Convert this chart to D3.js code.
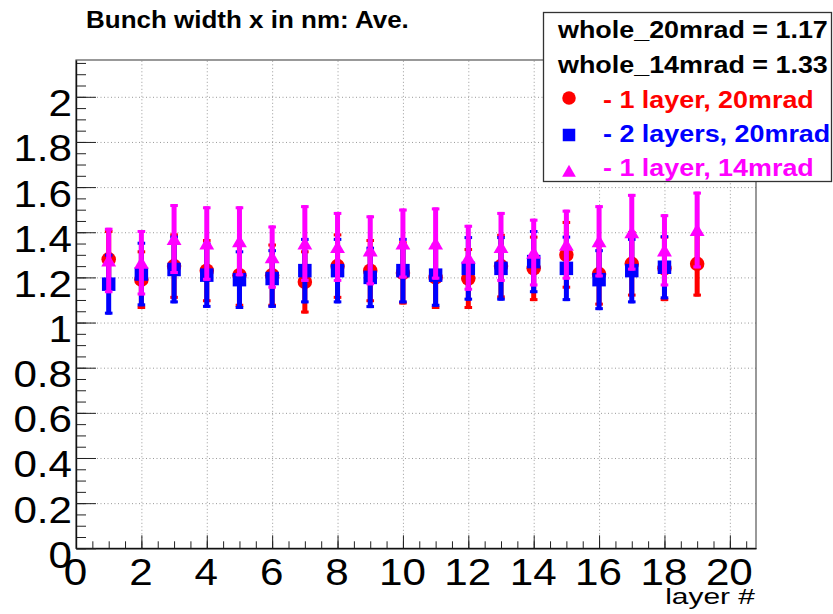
<!DOCTYPE html>
<html>
<head>
<meta charset="utf-8">
<script src="https://cdn.jsdelivr.net/npm/d3@7"></script>
<style>
  body { margin: 0; background: #fff; }
  svg { display: block; font-family: "Liberation Sans", Arial, Helvetica, sans-serif; }
</style>
</head>
<body>
<div id="chart"></div>
<script>
// layer numbers per series
const layersRed = d3.range(1, 20);
const layersBlue = d3.range(1, 19);
const layersMag = d3.range(1, 20);

// 1 layer, 20mrad
const redValues = [1.28, 1.19, 1.25, 1.23, 1.21, 1.21, 1.18, 1.25, 1.23, 1.22,
                   1.20, 1.195, 1.25, 1.24, 1.30, 1.215, 1.26, 1.24, 1.26];
const redErrors = [0.13, 0.13, 0.145, 0.14, 0.14, 0.14, 0.14, 0.145, 0.14, 0.14,
                   0.14, 0.135, 0.143, 0.145, 0.15, 0.14, 0.145, 0.145, 0.145];
// 2 layers, 20mrad
const blueValues = [1.17, 1.215, 1.235, 1.21, 1.19, 1.195, 1.23, 1.23, 1.20, 1.23,
                    1.21, 1.24, 1.24, 1.27, 1.24, 1.19, 1.23, 1.245];
const blueErrors = [0.135, 0.143, 0.15, 0.145, 0.13, 0.13, 0.145, 0.145, 0.136, 0.145,
                    0.14, 0.143, 0.143, 0.14, 0.145, 0.135, 0.145, 0.142];
// 1 layer, 14mrad
const magValues = [1.275, 1.265, 1.37, 1.35, 1.36, 1.29, 1.35, 1.335, 1.32, 1.35,
                   1.35, 1.287, 1.335, 1.31, 1.345, 1.36, 1.40, 1.32, 1.41];
const magErrors = [0.145, 0.145, 0.155, 0.165, 0.155, 0.14, 0.17, 0.155, 0.155, 0.155,
                   0.16, 0.146, 0.155, 0.15, 0.155, 0.16, 0.17, 0.16, 0.17];

const xMajor = d3.range(0, 21, 2);
const xMinor = d3.range(0, 20.6, 0.5);
const yMajor = d3.range(0, 2.01, 0.2).map(v => +v.toFixed(1));
const yMinor = d3.range(0, 2.16, 0.05).map(v => +v.toFixed(2));

const title = "Bunch width x in nm: Ave.";
const xTitle = "layer #";
const legendHeader = ["whole_20mrad = 1.17", "whole_14mrad = 1.33"];
const legendLabels = ["- 1 layer, 20mrad", "- 2 layers, 20mrad", "- 1 layer, 14mrad"];

const width = 833, height = 614;
const SX = 1.14; // text is stretched horizontally in the original

const svg = d3.select("#chart").append("svg")
    .attr("width", width)
    .attr("height", height);

const x = d3.scaleLinear().domain([0, 20.8]).range([76, 756]);
const y = d3.scaleLinear().domain([0, 2.163]).range([548.3, 60]);

// grid
svg.append("g")
    .attr("transform", `translate(0,${y(0)})`)
    .call(d3.axisBottom(x).tickValues(xMajor.slice(1)).tickSize(-(y(0) - y.range()[1])).tickFormat(""))
    .call(g => g.select(".domain").remove())
    .call(g => g.selectAll("line").attr("stroke", "#999").attr("stroke-dasharray", "1,2.5"));
svg.append("g")
    .attr("transform", `translate(${x(0)},0)`)
    .call(d3.axisLeft(y).tickValues(yMajor.slice(1)).tickSize(-(x.range()[1] - x(0))).tickFormat(""))
    .call(g => g.select(".domain").remove())
    .call(g => g.selectAll("line").attr("stroke", "#999").attr("stroke-dasharray", "1,2.5"));

// frame
svg.append("rect")
    .attr("x", x(0)).attr("y", y.range()[1])
    .attr("width", x.range()[1] - x(0)).attr("height", y(0) - y.range()[1])
    .attr("fill", "none").attr("stroke", "#555").attr("stroke-width", 1.2);

// minor ticks
svg.append("g")
    .attr("transform", `translate(0,${y(0)})`)
    .call(d3.axisBottom(x).tickValues(xMinor).tickSize(-7).tickSizeOuter(0).tickFormat(""))
    .call(g => g.select(".domain").remove())
    .call(g => g.selectAll("line").attr("stroke", "#222"));
svg.append("g")
    .attr("transform", `translate(${x(0)},0)`)
    .call(d3.axisLeft(y).tickValues(yMinor).tickSize(-10).tickSizeOuter(0).tickFormat(""))
    .call(g => g.select(".domain").remove())
    .call(g => g.selectAll("line").attr("stroke", "#222"));

// major ticks + labels
svg.append("g")
    .attr("transform", `translate(0,${y(0)})`)
    .call(d3.axisBottom(x).tickValues(xMajor).tickSize(-13).tickSizeOuter(0).tickFormat(d3.format("d")))
    .call(g => g.select(".domain").attr("stroke", "#111").attr("stroke-width", 1.4))
    .call(g => g.selectAll("line").attr("stroke", "#222"))
    .call(g => g.selectAll("text")
        .attr("x", null).attr("y", null).attr("dy", null)
        .attr("transform", `translate(-1,37) scale(${SX},1)`)
        .attr("text-anchor", "middle")
        .attr("fill", "#000")
        .style("font-size", "37px"));
svg.append("g")
    .attr("transform", `translate(${x(0)},0)`)
    .call(d3.axisLeft(y).tickValues(yMajor).tickSize(-20).tickSizeOuter(0).tickFormat(d => d3.format("")(d)))
    .call(g => g.select(".domain").attr("stroke", "#111").attr("stroke-width", 1.4))
    .call(g => g.selectAll("line").attr("stroke", "#222"))
    .call(g => g.selectAll("text")
        .attr("x", null).attr("y", null).attr("dy", null)
        .attr("transform", `translate(-4,19) scale(${SX},1)`)
        .attr("text-anchor", "end")
        .attr("fill", "#000")
        .style("font-size", "37px"));

// axis title
svg.append("text")
    .attr("transform", `translate(755,604) scale(1.36,1)`)
    .attr("text-anchor", "end")
    .style("font-size", "22px")
    .text(xTitle);

// title
svg.append("text")
    .attr("transform", `translate(86,28) scale(1.13,1)`)
    .style("font-size", "23px")
    .style("font-weight", "bold")
    .text(title);

// series
const series = [
  { xs: layersRed, vals: redValues, errs: redErrors, color: "#ff0000", shape: "circle" },
  { xs: layersBlue, vals: blueValues, errs: blueErrors, color: "#0000ff", shape: "square" },
  { xs: layersMag, vals: magValues, errs: magErrors, color: "#ff00ff", shape: "triangle" }
];

function marker(g, shape, color, size) {
  const h = size / 2;
  if (shape === "circle") {
    g.append("circle").attr("r", h + 0.5).attr("fill", color);
  } else if (shape === "square") {
    g.append("rect").attr("x", -h).attr("y", -h).attr("width", size).attr("height", size).attr("fill", color);
  } else {
    const w = h * 1.1;
    g.append("path").attr("d", `M0,${-h}L${w},${h * 0.9}L${-w},${h * 0.9}Z`).attr("fill", color);
  }
}

series.forEach(s => {
  const pts = s.xs.map((l, i) => ({ l, v: s.vals[i], e: s.errs[i] }));
  const g = svg.append("g");
  const pt = g.selectAll("g").data(pts).join("g")
      .attr("transform", d => `translate(${x(d.l)},0)`);
  pt.append("rect")
      .attr("x", -2.5).attr("width", 5)
      .attr("y", d => y(d.v + d.e))
      .attr("height", d => y(d.v - d.e) - y(d.v + d.e))
      .attr("fill", s.color);
  pt.append("rect")
      .attr("x", -3.8).attr("width", 7.6).attr("height", 3)
      .attr("y", d => y(d.v + d.e))
      .attr("fill", s.color);
  pt.append("rect")
      .attr("x", -3.8).attr("width", 7.6).attr("height", 3)
      .attr("y", d => y(d.v - d.e) - 3)
      .attr("fill", s.color);
  pt.each(function (d) {
    const m = d3.select(this).append("g").attr("transform", `translate(0,${y(d.v)})`);
    marker(m, s.shape, s.color, 13.5);
  });
});

// legend
const lg = svg.append("g");
lg.append("rect")
    .attr("x", 543.5).attr("y", 12.5).attr("width", 288).attr("height", 169)
    .attr("fill", "#fff").attr("stroke", "#333").attr("stroke-width", 1.3);
legendHeader.forEach((t, i) => {
  lg.append("text")
      .attr("transform", `translate(558,${38 + i * 35}) scale(1.17,1)`)
      .style("font-size", "23px").style("font-weight", "bold")
      .attr("fill", "#000")
      .text(t);
});
const legendY = [98, 135, 171];
const legendBase = [108, 142, 176];
series.forEach((s, i) => {
  const m = lg.append("g").attr("transform", `translate(569,${legendY[i]})`);
  marker(m, s.shape, s.color, 12.5);
  lg.append("text")
      .attr("transform", `translate(603,${legendBase[i]}) scale(1.17,1)`)
      .style("font-size", "23px").style("font-weight", "bold")
      .attr("fill", s.color)
      .text(legendLabels[i]);
});
</script>
</body>
</html>
